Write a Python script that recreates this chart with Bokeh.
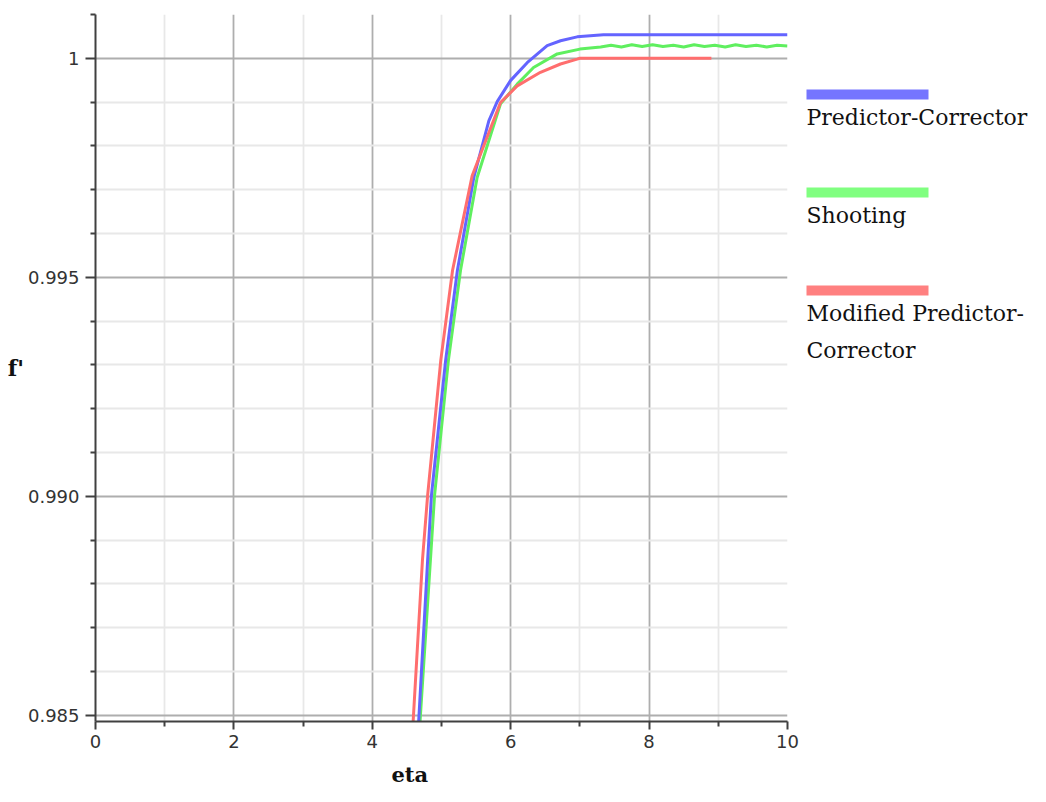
from bokeh.plotting import figure
from bokeh.models import Range1d, FixedTicker, Title
from bokeh.layouts import row
from bokeh.core.properties import value
from bokeh.embed import file_html
from bokeh.resources import INLINE

# ---------------- data ----------------
x_ticks = [0, 2, 4, 6, 8, 10]
x_minor = [1, 3, 5, 7, 9]
y_ticks = [0.985, 0.99, 0.995, 1.0]
y_tick_labels = ["0.985", "0.990", "0.995", "1"]
y_minor = [0.986, 0.987, 0.988, 0.989, 0.991, 0.992, 0.993, 0.994,
           0.996, 0.997, 0.998, 0.999, 1.001]

pc_x = [4.67, 4.80, 4.855, 5.06, 5.23, 5.467, 5.684, 5.805, 5.997, 6.238, 6.527, 6.72, 6.96, 7.34, 10.0]
pc_y = [0.98486, 0.98855, 0.99003, 0.99311, 0.99516, 0.99728, 0.99857, 0.99901, 0.99949, 0.99990,
        1.00029, 1.00040, 1.00049, 1.00054, 1.00054]

sh_x = [4.69, 4.84, 4.90, 5.10, 5.275, 5.515, 5.853, 6.094, 6.33, 6.672, 7.0, 7.3,
        7.45, 7.6, 7.75, 7.9, 8.05, 8.2, 8.35, 8.5, 8.65, 8.8, 8.95, 9.1, 9.25, 9.4,
        9.55, 9.7, 9.85, 10.0]
sh_y = [0.98486, 0.98855, 0.99003, 0.99311, 0.99516, 0.99728, 0.99896, 0.99941, 0.99979,
        1.00010, 1.00021, 1.00026,
        1.00030, 1.00026, 1.00031, 1.00027, 1.00031, 1.00027, 1.00030, 1.00026, 1.00031,
        1.00027, 1.00030, 1.00026, 1.00031, 1.00027, 1.00030, 1.00026, 1.00030, 1.00028]

mpc_x = [4.59, 4.725, 4.80, 4.99, 5.16, 5.443, 5.853, 6.094, 6.43, 6.72, 6.96, 7.0, 8.9]
mpc_y = [0.98486, 0.98855, 0.99003, 0.99311, 0.99516, 0.99732, 0.99899, 0.99937, 0.99968,
         0.99987, 0.99998, 1.0, 1.0]

legend_labels = ["Predictor-Corrector", "Shooting", "Modified Predictor-\nCorrector"]
legend_colors = ["#7575ff", "#80ff80", "#ff8080"]
line_colors = ["#6464ff", "#5fef5f", "#ff6e6e"]

# ---------------- main plot ----------------
p = figure(width=800, height=800, output_backend="svg", toolbar_location=None,
           x_range=Range1d(0, 10), y_range=Range1d(0.98486, 1.001),
           min_border_left=95, min_border_right=13, min_border_top=14, min_border_bottom=79)
p.outline_line_color = None
p.background_fill_color = "white"
p.border_fill_color = "white"

p.xaxis.ticker = FixedTicker(ticks=x_ticks, minor_ticks=x_minor)
p.yaxis.ticker = FixedTicker(ticks=y_ticks, minor_ticks=y_minor)
p.yaxis.major_label_overrides = {t: l for t, l in zip(y_ticks, y_tick_labels)}

for ax in (p.xaxis, p.yaxis):
    ax.axis_line_width = 2
    ax.axis_line_color = "#404040"
    ax.major_tick_line_color = "#404040"
    ax.minor_tick_line_color = "#404040"
    ax.major_tick_line_width = 2
    ax.minor_tick_line_width = 2
    ax.major_tick_in = 0
    ax.minor_tick_in = 0
    ax.major_label_text_font = "DejaVu Sans"
    ax.major_label_text_font_size = "18px"
    ax.major_label_text_color = "#333333"

p.yaxis.major_tick_out = 10
p.yaxis.minor_tick_out = 5
p.yaxis.major_label_standoff = 6
p.xaxis.major_tick_out = 8
p.xaxis.minor_tick_out = 5
p.xaxis.major_label_standoff = 5

for g in (p.xgrid, p.ygrid):
    g.grid_line_color = "#aeaeae"
    g.grid_line_width = 1.8
    g.minor_grid_line_color = "#e8e8e8"
    g.minor_grid_line_width = 1.8

p.line(sh_x, sh_y, line_color=line_colors[1], line_width=3)
p.line(pc_x, pc_y, line_color=line_colors[0], line_width=3)
p.line(mpc_x, mpc_y, line_color=line_colors[2], line_width=3)

# axis labels
p.add_layout(Title(text="eta", align="left", offset=296, text_font="DejaVu Serif",
                   text_font_size="21px", text_font_style="bold", text_color="#111111",
                   standoff=18), "below")

yax = p.yaxis[0]
if "axis_label_orientation" in yax.properties():
    yax.axis_label = "f'"
    yax.axis_label_orientation = "horizontal"
    yax.axis_label_text_font = "DejaVu Serif"
    yax.axis_label_text_font_size = "22px"
    yax.axis_label_text_font_style = "bold"
    yax.axis_label_text_color = "#111111"
    yax.axis_label_standoff = 1
else:
    p.add_layout(Title(text="f'", align="center", text_font="DejaVu Serif",
                       text_font_size="22px", text_font_style="bold",
                       text_color="#111111"), "left")

# ---------------- legend panel ----------------
# y_range in page pixels of the aligned frame (top 14, bottom 721)
lg = figure(width=246, height=800, output_backend="svg", toolbar_location=None,
            x_range=Range1d(0, 246), y_range=Range1d(721, 14), min_border=0)
lg.axis.visible = False
lg.grid.visible = False
lg.outline_line_color = None
lg.background_fill_color = "white"
lg.border_fill_color = "white"

n = len(legend_labels)
sw_y = [94 + 98 * i for i in range(n)]
lg.segment(x0=[6] * n, x1=[128] * n, y0=sw_y, y1=sw_y, line_color=legend_colors, line_width=10)
lg.text(x=[6] * n, y=[yy + 10 for yy in sw_y], text=legend_labels,
        text_font=value("DejaVu Serif"), text_font_size="22px", text_color="#111111",
        text_baseline="top", text_align="left", text_line_height=1.5)

layout = row(p, lg)
open("out.html", "w").write(file_html(layout, INLINE))
